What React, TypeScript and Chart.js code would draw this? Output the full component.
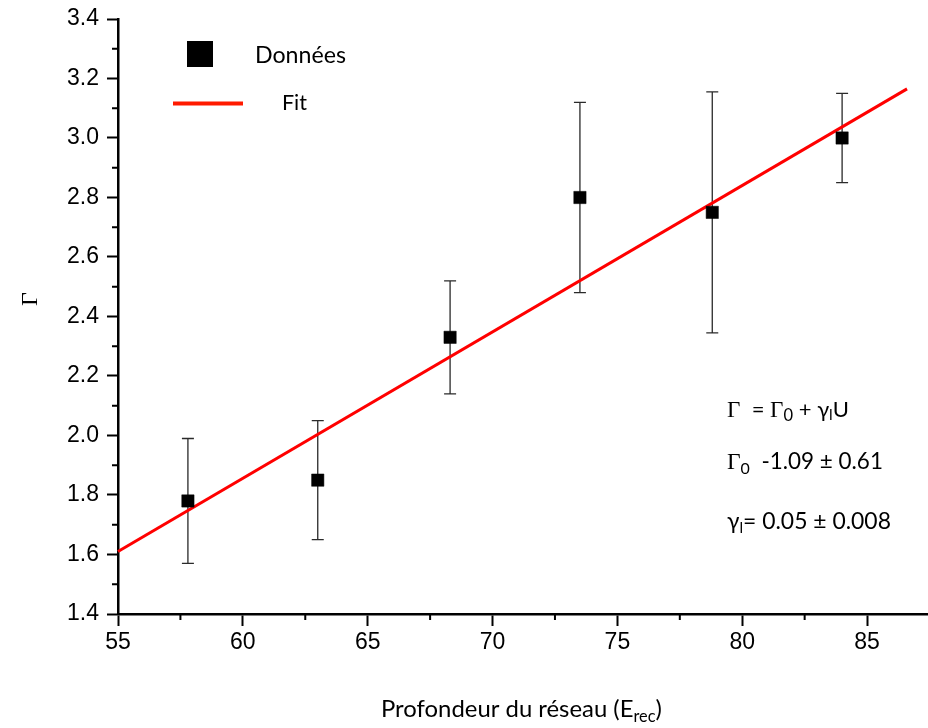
import React, { useEffect, useRef } from 'react';
import { Chart, registerables } from 'chart.js';

Chart.register(...registerables);

// Data
const X_VALUES = [57.8, 63.0, 68.3, 73.5, 78.8, 84.0];
const Y_VALUES = [1.78, 1.85, 2.33, 2.8, 2.75, 3.0];
const Y_ERRORS = [0.21, 0.2, 0.19, 0.32, 0.405, 0.15];
const FIT_X = [55, 86.6];
const FIT_Y = [1.61, 3.165];
const X_MINOR = [57.5, 62.5, 67.5, 72.5, 77.5, 82.5, 87.5];
const Y_MINOR = [1.5, 1.7, 1.9, 2.1, 2.3, 2.5, 2.7, 2.9, 3.1, 3.3];
const X_MIN = 55;
const X_MAX = 87.44;
const Y_MIN = 1.4;
const Y_MAX = 3.4;

const LEGEND_LABELS = ['Données', 'Fit'];
const X_TITLE = 'Profondeur du réseau (E';
const X_TITLE_SUB = 'rec';
const Y_TITLE = 'Γ';

const SANS = 'Lato, "Open Sans", sans-serif';
const SERIF = '"Liberation Serif", "DejaVu Serif", serif';
const ARIAL = '"Liberation Sans", Arial, sans-serif';

type Run = { text: string; size: number; serif?: boolean; dy?: number };

// draws runs scaled so that their total width equals targetWidth
function drawRuns(ctx: CanvasRenderingContext2D, x: number, y: number, runs: Run[], targetWidth: number, maxScale = 10): void {
  const fontOf = (r: Run, k: number) => `${(r.size * k).toFixed(2)}px ${r.serif ? SERIF : SANS}`;
  let w = 0;
  for (const r of runs) {
    ctx.font = fontOf(r, 1);
    w += ctx.measureText(r.text).width;
  }
  const k = Math.min(targetWidth / w, maxScale);
  let cx = x;
  for (const r of runs) {
    ctx.font = fontOf(r, k);
    ctx.fillText(r.text, cx, y + (r.dy || 0) * k);
    cx += ctx.measureText(r.text).width;
  }
}

const errorBarPlugin = {
  id: 'errorBars',
  beforeDatasetsDraw(chart: any) {
    const { ctx } = chart;
    const xs = chart.scales.x;
    const ys = chart.scales.y;
    ctx.save();
    ctx.strokeStyle = '#2a2a2a';
    ctx.lineWidth = 1.3;
    for (let i = 0; i < X_VALUES.length; i++) {
      const px = xs.getPixelForValue(X_VALUES[i]);
      const top = ys.getPixelForValue(Y_VALUES[i] + Y_ERRORS[i]);
      const bot = ys.getPixelForValue(Y_VALUES[i] - Y_ERRORS[i]);
      ctx.beginPath();
      ctx.moveTo(px, top);
      ctx.lineTo(px, bot);
      ctx.moveTo(px - 6, top);
      ctx.lineTo(px + 6, top);
      ctx.moveTo(px - 6, bot);
      ctx.lineTo(px + 6, bot);
      ctx.stroke();
    }
    ctx.restore();
  },
};

const decorPlugin = {
  id: 'decor',
  afterDraw(chart: any) {
    const { ctx, chartArea } = chart;
    const xs = chart.scales.x;
    const ys = chart.scales.y;
    ctx.save();
    // minor ticks
    ctx.strokeStyle = '#000';
    ctx.lineWidth = 2;
    ctx.beginPath();
    for (const v of X_MINOR) {
      if (v > X_MAX) continue;
      const px = xs.getPixelForValue(v);
      ctx.moveTo(px, chartArea.bottom);
      ctx.lineTo(px, chartArea.bottom + 6);
    }
    for (const v of Y_MINOR) {
      const py = ys.getPixelForValue(v);
      ctx.moveTo(chartArea.left - 6, py);
      ctx.lineTo(chartArea.left, py);
    }
    ctx.stroke();

    // legend
    ctx.fillStyle = '#000';
    ctx.fillRect(187, 41, 26, 26);
    ctx.textBaseline = 'alphabetic';
    ctx.textAlign = 'left';
    drawRuns(ctx, 255, 63, [{ text: LEGEND_LABELS[0], size: 22 }], 91);
    ctx.strokeStyle = '#ff1a00';
    ctx.lineWidth = 4;
    ctx.beginPath();
    ctx.moveTo(173, 103.5);
    ctx.lineTo(243, 103.5);
    ctx.stroke();
    ctx.fillStyle = '#000';
    drawRuns(ctx, 282, 110, [{ text: LEGEND_LABELS[1], size: 22 }], 25);

    // annotations
    drawRuns(ctx, 727, 417, [
      { text: 'Γ', size: 21, serif: true },
      { text: '  = ', size: 20 },
      { text: 'Γ', size: 21, serif: true },
      { text: '0', size: 15, dy: 4 },
      { text: ' + γ', size: 20 },
      { text: 'l', size: 14, dy: 3 },
      { text: 'U', size: 20 },
    ], 122);
    drawRuns(ctx, 727, 469, [
      { text: 'Γ', size: 22, serif: true },
      { text: '0', size: 15, dy: 5 },
      { text: '  -1.09 ± 0.61', size: 21 },
    ], 156);
    drawRuns(ctx, 727, 529, [
      { text: 'γ', size: 21 },
      { text: 'l', size: 14, dy: 4 },
      { text: '= 0.05 ± 0.008', size: 21 },
    ], 164);

    // x title
    drawRuns(ctx, 381, 717, [
      { text: X_TITLE, size: 22 },
      { text: X_TITLE_SUB, size: 15, dy: 5 },
      { text: ')', size: 22 },
    ], 281);

    // y title
    ctx.translate(31, 299);
    ctx.rotate(-Math.PI / 2);
    ctx.textAlign = 'center';
    ctx.textBaseline = 'middle';
    ctx.font = `24px ${SERIF}`;
    ctx.fillText(Y_TITLE, 0, 0);
    ctx.restore();
  },
};

export default function App() {
  const ref = useRef<HTMLCanvasElement | null>(null);
  useEffect(() => {
    if (!ref.current) return;
    const chart = new Chart(ref.current, {
      type: 'scatter',
      data: {
        datasets: [
          {
            label: LEGEND_LABELS[0],
            data: X_VALUES.map((x, i) => ({ x, y: Y_VALUES[i] })),
            pointStyle: 'rect',
            pointRadius: 8.7,
            backgroundColor: '#000',
            borderColor: '#000',
            borderWidth: 0.5,
            showLine: false,
            clip: false,
          },
          {
            label: LEGEND_LABELS[1],
            data: FIT_X.map((x, i) => ({ x, y: FIT_Y[i] })),
            showLine: true,
            borderColor: '#ff0000',
            borderWidth: 3,
            pointRadius: 0,
            clip: false,
          },
        ],
      },
      options: {
        animation: false,
        responsive: false,
        layout: { autoPadding: false, padding: { top: 19, left: 0, right: 0, bottom: 0 } },
        plugins: { legend: { display: false }, tooltip: { enabled: false } },
        scales: {
          x: {
            type: 'linear',
            min: X_MIN,
            max: X_MAX,
            afterFit: (s: any) => {
              s.height = 114;
              s.paddingLeft = 0;
              s.paddingRight = 0;
            },
            border: { display: true, color: '#000', width: 2.5 },
            grid: { drawOnChartArea: false, drawTicks: true, tickLength: 12, tickColor: '#000', tickWidth: 2 },
            ticks: {
              stepSize: 5,
              includeBounds: false,
              color: '#000',
              padding: 3,
              maxRotation: 0,
              font: { family: ARIAL, size: 23 },
            },
          },
          y: {
            type: 'linear',
            min: Y_MIN,
            max: Y_MAX,
            afterFit: (s: any) => {
              s.width = 118;
              s.paddingTop = 0;
              s.paddingBottom = 0;
            },
            border: { display: true, color: '#000', width: 2.5 },
            grid: { drawOnChartArea: false, drawTicks: true, tickLength: 11, tickColor: '#000', tickWidth: 2 },
            ticks: {
              stepSize: 0.2,
              color: '#000',
              padding: 8,
              font: { family: ARIAL, size: 23 },
              callback: (v: any) => Number(v).toFixed(1),
            },
          },
        },
      },
      plugins: [errorBarPlugin, decorPlugin],
    });
    return () => chart.destroy();
  }, []);
  return (
    <div style={{ position: 'fixed', left: 0, top: 0, width: 928, height: 728, background: '#fff' }}>
      <canvas ref={ref} width={928} height={728} style={{ display: 'block' }} />
    </div>
  );
}
